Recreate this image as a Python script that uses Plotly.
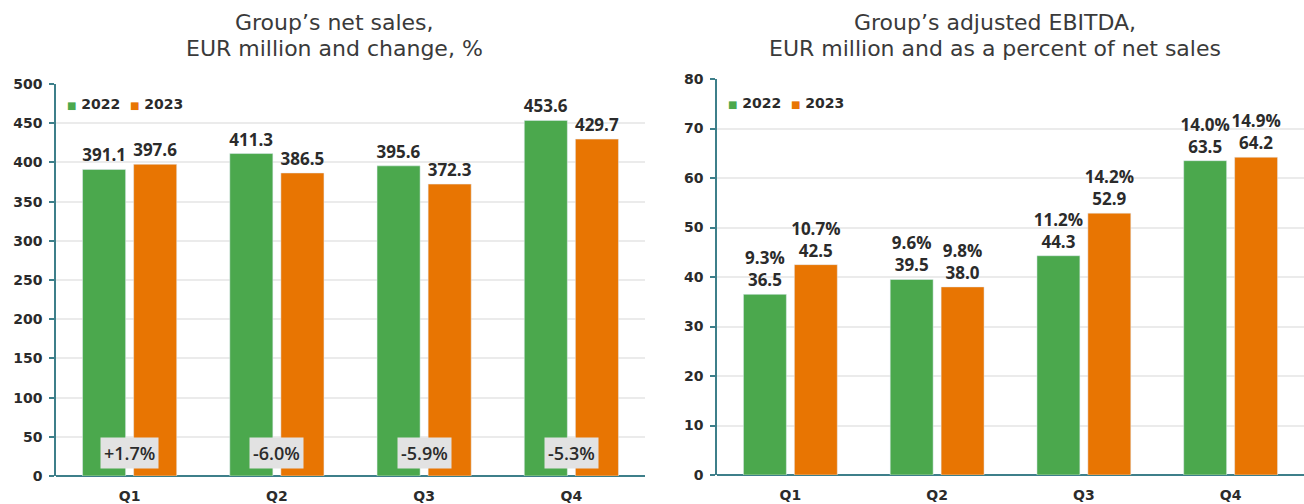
import plotly.graph_objects as go

quarters = ["Q1", "Q2", "Q3", "Q4"]
years = ["2022", "2023"]
sales_2022 = [391.1, 411.3, 395.6, 453.6]
sales_2023 = [397.6, 386.5, 372.3, 429.7]
sales_change = ["+1.7%", "-6.0%", "-5.9%", "-5.3%"]
ebitda_2022 = [36.5, 39.5, 44.3, 63.5]
ebitda_2023 = [42.5, 38.0, 52.9, 64.2]
margin_2022 = ["9.3%", "9.6%", "11.2%", "14.0%"]
margin_2023 = ["10.7%", "9.8%", "14.2%", "14.9%"]
title_left = ["Group’s net sales,", "EUR million and change, %"]
title_right = ["Group’s adjusted EBITDA,", "EUR million and as a percent of net sales"]

GREEN = "#4BA84D"
ORANGE = "#E87502"
AXIS = "#3E7F8A"
GRID = "#EBEBEB"
TXT = "#2B2B2B"
NUMFONT = "Open Sans"
TICKFONT = "DejaVu Sans"

W, H = 1304, 504

fig = go.Figure()

lab_font = dict(family=NUMFONT, size=17, color=TXT, weight="bold")

fig.add_trace(go.Bar(x=quarters, y=sales_2022, name=years[0], marker_color=GREEN,
                     text=[f"{v:.1f}" for v in sales_2022], textposition="outside",
                     textfont=lab_font, constraintext="none", cliponaxis=False,
                     xaxis="x", yaxis="y", showlegend=False))
fig.add_trace(go.Bar(x=quarters, y=sales_2023, name=years[1], marker_color=ORANGE,
                     text=[f"{v:.1f}" for v in sales_2023], textposition="outside",
                     textfont=lab_font, constraintext="none", cliponaxis=False,
                     xaxis="x", yaxis="y", showlegend=False))
fig.add_trace(go.Bar(x=quarters, y=ebitda_2022, name=years[0], marker_color=GREEN,
                     text=[f"{p}<br>{v:.1f}" for p, v in zip(margin_2022, ebitda_2022)],
                     textposition="outside", textfont=lab_font, constraintext="none",
                     cliponaxis=False, xaxis="x2", yaxis="y2", showlegend=False))
fig.add_trace(go.Bar(x=quarters, y=ebitda_2023, name=years[1], marker_color=ORANGE,
                     text=[f"{p}<br>{v:.1f}" for p, v in zip(margin_2023, ebitda_2023)],
                     textposition="outside", textfont=lab_font, constraintext="none",
                     cliponaxis=False, xaxis="x2", yaxis="y2", showlegend=False))

xcommon = dict(type="category", showgrid=False, showline=False, ticks="",
               tickfont=dict(family=TICKFONT, size=14, color=TXT, weight="bold"),
               ticklabelstandoff=10, range=[-0.5, 3.5], fixedrange=True,
               automargin=False)
ycommon = dict(showgrid=True, gridcolor=GRID, gridwidth=1.5, showline=True,
               linecolor=AXIS, linewidth=1.5, ticks="outside", ticklen=5,
               tickcolor=AXIS, tickwidth=1.5, zeroline=True, zerolinecolor=AXIS,
               zerolinewidth=1.5, automargin=False,
               tickfont=dict(family=TICKFONT, size=14, color=TXT, weight="bold"),
               ticklabelstandoff=4)

fig.update_layout(
    width=W, height=H, margin=dict(l=0, r=0, t=0, b=0, autoexpand=False),
    paper_bgcolor="white", plot_bgcolor="white",
    barmode="group", bargap=0.306, bargroupgap=0.157,
    xaxis=dict(domain=[56 / W, 645 / W], anchor="y", **xcommon),
    yaxis=dict(domain=[1 - 476 / H, 1 - 84 / H], anchor="x", range=[0, 500],
               dtick=50, **ycommon),
    xaxis2=dict(domain=[717 / W, 1.0], anchor="y2", **xcommon),
    yaxis2=dict(domain=[1 - 475 / H, 1 - 79 / H], anchor="x2", range=[0, 80],
                dtick=10, **ycommon),
    showlegend=False,
)

# change-percent boxes
for q, c in zip(quarters, sales_change):
    fig.add_annotation(x=q, xref="x", y=29, yref="y", yanchor="middle", text=c,
                       showarrow=False, bgcolor="#E2E2E2", borderpad=3,
                       font=dict(family=NUMFONT, size=18, color=TXT, weight=600))

# legends
leg = (f"<span style='color:{GREEN};font-size:10px'>■</span> {years[0]}  "
       f"<span style='color:{ORANGE};font-size:10px'>■</span> {years[1]}")
for xr, yr, yy in (("x domain", "y domain", 1 - 20 / 392), ("x2 domain", "y2 domain", 1 - 24 / 396)):
    fig.add_annotation(x=0.015, xref=xr, y=yy, yref=yr, text=leg,
                       showarrow=False, xanchor="left", yanchor="middle",
                       font=dict(family=TICKFONT, size=14, color=TXT, weight="bold"))

# titles
tfont = dict(family="DejaVu Sans", size=22, color="#3A3A3A")
for cx, lines in ((334, title_left), (995, title_right)):
    for yy, line in zip((23, 49), lines):
        fig.add_annotation(x=cx / W, xref="paper", y=1 - yy / H, yref="paper",
                           text=line, showarrow=False, font=tfont,
                           xanchor="center", yanchor="middle")

fig.write_html("out.html", config={"displayModeBar": False},
               post_script="document.body.style.margin='0px';document.body.style.overflow='hidden';")
